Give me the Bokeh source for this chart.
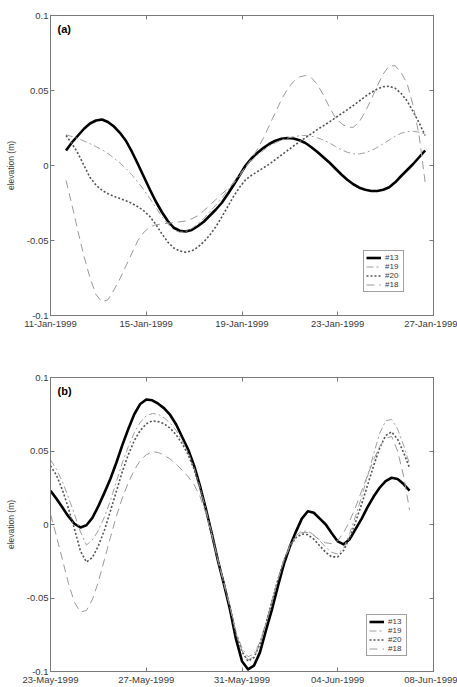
import pandas as pd
from bokeh.plotting import figure
from bokeh.layouts import column
from bokeh.models import (Range1d, FixedTicker, LinearAxis, DatetimeAxis,
                          Legend, LegendItem, Label)
from bokeh.embed import file_html
from bokeh.resources import INLINE

# ---------------- data ----------------
# Panel (a): 11-Jan-1999 .. 27-Jan-1999, sample times in days after the start
start_a = "1999-01-11"
end_a = "1999-01-27"
days_a = [0.65, 0.9, 1.15, 1.4, 1.65, 1.9, 2.15, 2.4, 2.65, 2.9, 3.15, 3.4,
          3.65, 3.9, 4.15, 4.4, 4.65, 4.9, 5.15, 5.4, 5.65, 5.9, 6.15, 6.4,
          6.65, 6.9, 7.15, 7.4, 7.65, 7.9, 8.15, 8.4, 8.65, 8.9, 9.15, 9.4,
          9.65, 9.9, 10.15, 10.4, 10.65, 10.9, 11.15, 11.4, 11.65, 11.9,
          12.15, 12.4, 12.65, 12.9, 13.15, 13.4, 13.65, 13.9, 14.15, 14.4,
          14.65, 14.9, 15.15, 15.4, 15.65]
a_13 = [0.0100, 0.0155, 0.0200, 0.0245, 0.0280, 0.0300, 0.0307, 0.0290,
        0.0260, 0.0218, 0.0165, 0.0092, 0.0010, -0.0075, -0.0160, -0.0240,
        -0.0310, -0.0370, -0.0415, -0.0435, -0.0440, -0.0430, -0.0405, -0.0375,
        -0.0335, -0.0295, -0.0250, -0.0192, -0.0130, -0.0065, 0.0000, 0.0048,
        0.0085, 0.0118, 0.0145, 0.0165, 0.0178, 0.0183, 0.0180, 0.0168,
        0.0150, 0.0122, 0.0090, 0.0055, 0.0020, -0.0020, -0.0060, -0.0095,
        -0.0125, -0.0148, -0.0162, -0.0170, -0.0170, -0.0162, -0.0145, -0.0112,
        -0.0070, -0.0030, 0.0010, 0.0055, 0.0100]
a_19 = [0.0205, 0.0193, 0.0180, 0.0163, 0.0145, 0.0126, 0.0105, 0.0080,
        0.0050, 0.0017, -0.0020, -0.0062, -0.0110, -0.0163, -0.0220, -0.0280,
        -0.0340, -0.0390, -0.0430, -0.0445, -0.0440, -0.0420, -0.0390, -0.0352,
        -0.0310, -0.0265, -0.0220, -0.0165, -0.0110, -0.0058, -0.0010, 0.0032,
        0.0070, 0.0102, 0.0130, 0.0152, 0.0170, 0.0183, 0.0192, 0.0198,
        0.0200, 0.0195, 0.0185, 0.0170, 0.0150, 0.0127, 0.0105, 0.0088,
        0.0078, 0.0077, 0.0085, 0.0100, 0.0120, 0.0145, 0.0170, 0.0195,
        0.0215, 0.0225, 0.0228, 0.0222, 0.0210]
a_20 = [0.0200, 0.0145, 0.0080, 0.0000, -0.0080, -0.0130, -0.0165, -0.0188,
        -0.0205, -0.0220, -0.0235, -0.0252, -0.0275, -0.0302, -0.0340, -0.0393,
        -0.0455, -0.0510, -0.0550, -0.0570, -0.0578, -0.0570, -0.0545, -0.0510,
        -0.0465, -0.0410, -0.0345, -0.0275, -0.0205, -0.0145, -0.0095, -0.0065,
        -0.0040, -0.0015, 0.0010, 0.0040, 0.0070, 0.0100, 0.0130, 0.0158,
        0.0185, 0.0212, 0.0240, 0.0265, 0.0290, 0.0318, 0.0345, 0.0372,
        0.0400, 0.0430, 0.0460, 0.0487, 0.0510, 0.0525, 0.0528, 0.0515,
        0.0480, 0.0430, 0.0360, 0.0285, 0.0200]
a_18 = [-0.0100, -0.0265, -0.0440, -0.0605, -0.0750, -0.0860, -0.0910, -0.0895,
        -0.0830, -0.0755, -0.0670, -0.0585, -0.0500, -0.0445, -0.0410, -0.0395,
        -0.0390, -0.0385, -0.0380, -0.0375, -0.0370, -0.0355, -0.0335, -0.0302,
        -0.0265, -0.0228, -0.0190, -0.0157, -0.0120, -0.0070, -0.0010, 0.0045,
        0.0110, 0.0185, 0.0270, 0.0355, 0.0440, 0.0510, 0.0560, 0.0590,
        0.0600, 0.0585, 0.0540, 0.0470, 0.0390, 0.0320, 0.0280, 0.0255,
        0.0255, 0.0290, 0.0360, 0.0440, 0.0530, 0.0610, 0.0665, 0.0665,
        0.0620, 0.0545, 0.0400, 0.0200, -0.0110]
ticks_a = ["1999-01-11", "1999-01-15", "1999-01-19", "1999-01-23", "1999-01-27"]
tick_labels_a = ["11-Jan-1999", "15-Jan-1999", "19-Jan-1999", "23-Jan-1999", "27-Jan-1999"]

# Panel (b): 23-May-1999 .. 08-Jun-1999
start_b = "1999-05-23"
end_b = "1999-06-08"
days_b = [0.0, 0.25, 0.5, 0.75, 1.0, 1.25, 1.5, 1.75, 2.0, 2.25, 2.5, 2.75,
          3.0, 3.25, 3.5, 3.75, 4.0, 4.25, 4.5, 4.75, 5.0, 5.25, 5.5, 5.75,
          6.0, 6.25, 6.5, 6.75, 7.0, 7.25, 7.5, 7.75, 8.0, 8.25, 8.5, 8.75,
          9.0, 9.25, 9.5, 9.75, 10.0, 10.25, 10.5, 10.75, 11.0, 11.25, 11.5,
          11.75, 12.0, 12.25, 12.5, 12.75, 13.0, 13.25, 13.5, 13.75, 14.0,
          14.25, 14.5, 14.75, 15.0]
b_13 = [0.0230, 0.0175, 0.0115, 0.0055, 0.0005, -0.0020, -0.0005, 0.0045,
        0.0125, 0.0215, 0.0310, 0.0420, 0.0540, 0.0650, 0.0750, 0.0820,
        0.0850, 0.0845, 0.0822, 0.0790, 0.0745, 0.0680, 0.0595, 0.0510,
        0.0400, 0.0260, 0.0100, -0.0070, -0.0250, -0.0410, -0.0580, -0.0780,
        -0.0930, -0.0985, -0.0960, -0.0870, -0.0720, -0.0580, -0.0420, -0.0270,
        -0.0150, -0.0050, 0.0040, 0.0090, 0.0080, 0.0040, 0.0000, -0.0060,
        -0.0115, -0.0135, -0.0100, -0.0030, 0.0040, 0.0120, 0.0190, 0.0250,
        0.0295, 0.0318, 0.0310, 0.0275, 0.0230]
b_19 = [0.0440, 0.0375, 0.0290, 0.0185, 0.0070, -0.0050, -0.0140, -0.0105,
        -0.0040, 0.0050, 0.0160, 0.0290, 0.0420, 0.0530, 0.0625, 0.0695,
        0.0740, 0.0755, 0.0750, 0.0725, 0.0690, 0.0640, 0.0570, 0.0490,
        0.0385, 0.0250, 0.0095, -0.0070, -0.0245, -0.0400, -0.0555, -0.0730,
        -0.0840, -0.0900, -0.0880, -0.0800, -0.0670, -0.0520, -0.0370, -0.0240,
        -0.0140, -0.0075, -0.0045, -0.0045, -0.0070, -0.0110, -0.0155, -0.0190,
        -0.0200, -0.0160, -0.0060, 0.0060, 0.0190, 0.0330, 0.0480, 0.0620,
        0.0705, 0.0715, 0.0650, 0.0540, 0.0410]
b_20 = [0.0400, 0.0335, 0.0235, 0.0110, -0.0030, -0.0180, -0.0255, -0.0225,
        -0.0145, -0.0040, 0.0090, 0.0225, 0.0360, 0.0475, 0.0570, 0.0640,
        0.0685, 0.0705, 0.0700, 0.0685, 0.0655, 0.0610, 0.0550, 0.0475,
        0.0375, 0.0245, 0.0090, -0.0075, -0.0245, -0.0405, -0.0565, -0.0745,
        -0.0865, -0.0930, -0.0905, -0.0815, -0.0675, -0.0525, -0.0375, -0.0245,
        -0.0150, -0.0090, -0.0065, -0.0070, -0.0100, -0.0145, -0.0190, -0.0220,
        -0.0220, -0.0175, -0.0090, 0.0020, 0.0140, 0.0270, 0.0400, 0.0520,
        0.0605, 0.0630, 0.0580, 0.0490, 0.0385]
b_18 = [0.0070, -0.0080, -0.0240, -0.0400, -0.0530, -0.0595, -0.0585, -0.0510,
        -0.0390, -0.0240, -0.0090, 0.0055, 0.0180, 0.0285, 0.0370, 0.0435,
        0.0475, 0.0495, 0.0490, 0.0470, 0.0445, 0.0410, 0.0370, 0.0325,
        0.0270, 0.0190, 0.0070, -0.0080, -0.0245, -0.0400, -0.0560, -0.0740,
        -0.0860, -0.0920, -0.0900, -0.0815, -0.0675, -0.0525, -0.0375, -0.0245,
        -0.0150, -0.0085, -0.0055, -0.0055, -0.0075, -0.0105, -0.0125, -0.0130,
        -0.0110, -0.0055, 0.0025, 0.0120, 0.0230, 0.0335, 0.0440, 0.0530,
        0.0585, 0.0600, 0.0500, 0.0330, 0.0100]
ticks_b = ["1999-05-23", "1999-05-27", "1999-05-31", "1999-06-04", "1999-06-08"]
tick_labels_b = ["23-May-1999", "27-May-1999", "31-May-1999", "04-Jun-1999", "08-Jun-1999"]

y_ticks = [-0.1, -0.05, 0.0, 0.05, 0.1]
y_tick_labels = ["-0.1", "-0.05", "0", "0.05", "0.1"]

series_names = ["#13", "#19", "#20", "#18"]

# ---------------- styling ----------------
FONT = "Liberation Sans"
FRAME = "#7a7a7a"
TEXT = "#3a3a3a"
styles = {
    "#13": dict(line_color="black", line_width=2.6, line_join="round"),
    "#19": dict(line_color="#a0a0a0", line_width=1.0, line_dash="7 3 2 3"),
    "#20": dict(line_color="#555555", line_width=1.6, line_dash="2 2"),
    "#18": dict(line_color="#9a9a9a", line_width=1.0, line_dash="8 5"),
}


def ms(date):
    return pd.Timestamp(date).value / 1e6


def make_panel(start, end, days, values, ticks, tick_labels, tag,
               height, b_left, b_right, b_top, b_bottom, legend_xy):
    t0 = pd.Timestamp(start)
    x = [t0 + pd.Timedelta(days=d) for d in days]
    p = figure(width=457, height=height, x_axis_type="datetime",
               x_range=Range1d(ms(start), ms(end)), y_range=Range1d(-0.1, 0.1),
               output_backend="svg", toolbar_location=None,
               min_border_left=b_left, min_border_right=b_right,
               min_border_top=b_top, min_border_bottom=b_bottom)
    p.xgrid.visible = False
    p.ygrid.visible = False
    p.outline_line_color = FRAME
    p.outline_line_width = 1
    p.background_fill_color = "white"
    p.border_fill_color = "white"

    tick_ms = [ms(t) for t in ticks]

    # labelled axes (left / bottom)
    xa = p.xaxis[0]
    xa.ticker = FixedTicker(ticks=tick_ms)
    xa.major_label_overrides = {k: v for k, v in zip(tick_ms, tick_labels)}
    ya = p.yaxis[0]
    ya.ticker = FixedTicker(ticks=y_ticks)
    ya.major_label_overrides = {k: v for k, v in zip(y_ticks, y_tick_labels)}
    ya.axis_label = "elevation (m)"
    ya.axis_label_text_font = FONT
    ya.axis_label_text_font_size = "8.5px"
    ya.axis_label_text_font_style = "normal"
    ya.axis_label_text_color = TEXT
    ya.axis_label_standoff = 8
    for ax in (xa, ya):
        ax.axis_line_color = FRAME
        ax.major_tick_line_color = FRAME
        ax.major_tick_in = 4
        ax.major_tick_out = 0
        ax.minor_tick_line_color = None
        ax.major_label_text_font = FONT
        ax.major_label_text_font_size = "9.5px"
        ax.major_label_text_color = TEXT
        ax.major_label_standoff = 2

    # unlabelled tick axes on the top and right of the box
    top = DatetimeAxis(ticker=FixedTicker(ticks=tick_ms),
                       major_label_overrides={k: "" for k in tick_ms})
    right = LinearAxis(ticker=FixedTicker(ticks=y_ticks),
                       major_label_overrides={k: "" for k in y_ticks})
    for ax in (top, right):
        ax.axis_line_color = FRAME
        ax.major_tick_line_color = FRAME
        ax.major_tick_in = 4
        ax.major_tick_out = 0
        ax.minor_tick_line_color = None
        ax.major_label_standoff = 0
        ax.major_label_text_font_size = "1px"
    p.add_layout(top, "above")
    p.add_layout(right, "right")

    items = []
    for name in series_names:
        r = p.line(x, values[name], **styles[name])
        items.append(LegendItem(label=name, renderers=[r]))

    legend = Legend(items=items, location=legend_xy,
                    label_text_font=FONT, label_text_font_size="8px",
                    label_text_color=TEXT, label_height=9, label_width=16,
                    glyph_height=9, glyph_width=15, label_standoff=4,
                    spacing=0, padding=2, margin=0,
                    border_line_color="#444444", border_line_width=1,
                    background_fill_color="white", background_fill_alpha=1)
    p.add_layout(legend)

    p.add_layout(Label(x=ms(start), y=0.1, x_offset=7, y_offset=-7,
                       text=tag, text_font=FONT, text_font_size="11px",
                       text_font_style="bold", text_color="black",
                       text_baseline="top", text_align="left"))
    return p


pa = make_panel(start_a, end_a, days_a,
                {"#13": a_13, "#19": a_19, "#20": a_20, "#18": a_18},
                ticks_a, tick_labels_a, "(a)",
                height=345, b_left=50, b_right=24, b_top=15, b_bottom=30,
                legend_xy=(313, 23))
pb = make_panel(start_b, end_b, days_b,
                {"#13": b_13, "#19": b_19, "#20": b_20, "#18": b_18},
                ticks_b, tick_labels_b, "(b)",
                height=342, b_left=49, b_right=22, b_top=32, b_bottom=12,
                legend_xy=(316, 15))

layout = column(pa, pb, spacing=0)
open("out.html", "w").write(file_html(layout, INLINE))
